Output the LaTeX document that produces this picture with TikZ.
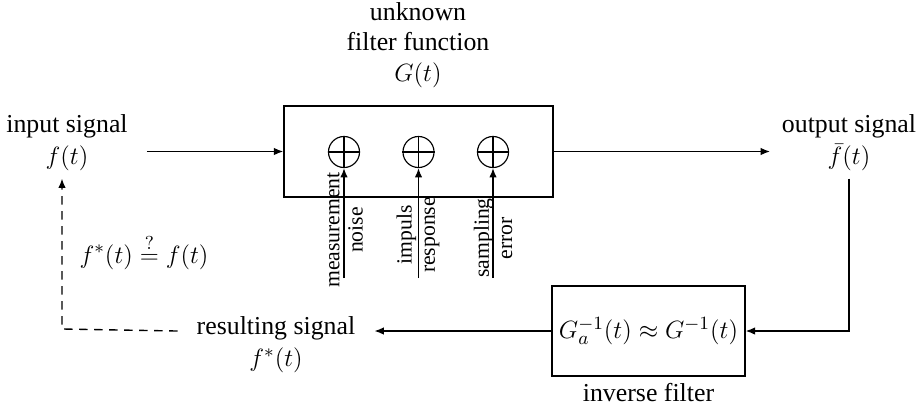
\documentclass[tikz,border=0pt]{standalone}
\usepackage[no-math]{fontspec}
\setmainfont{Liberation Serif}
\usetikzlibrary{arrows.meta,calc}
\begin{document}
\begin{tikzpicture}[x=0.48pt,y=-0.48pt,
  lbl/.style={align=center,font=\fontsize{12.4pt}{14.5pt}\selectfont},
  lblw/.style={align=center,font=\fontsize{12.4pt}{15.5pt}\selectfont},
  small/.style={align=center,rotate=90,inner sep=0pt,font=\fontsize{10.4pt}{11.2pt}\selectfont},
  blk/.style={draw,line width=0.7pt,inner sep=0pt},
  sum/.style={draw,circle,minimum size=14.9pt,inner sep=0pt,line width=0.55pt},
  arr/.style={line width=0.65pt,-{Latex[length=4.5pt,width=3.6pt]}}]
\useasboundingbox (0,0) rectangle (917,407);
% main box
\node[blk,minimum width=129.1pt,minimum height=43.7pt] (box) at (418.5,151.5) {};
\node[lbl] (title) at (418,45) {unknown\\filter function\\$G(t)$};
% adders
\node[sum] (c1) at (344,152) {};
\node[sum] (c2) at (418.5,152) {};
\node[sum] (c3) at (493,152) {};
\foreach \c in {c1,c2,c3}{
  \draw[line width=0.55pt] (\c.north) -- (\c.south) (\c.west) -- (\c.east);
}
\coordinate (s1) at (344,278);
\coordinate (s2) at (418.5,278);
\coordinate (s3) at (493,278);
\draw[arr] (s1) -- (c1.south);
\draw[arr] (s2) -- (c2.south);
\draw[arr] (s3) -- (c3.south);
\node[small] (l1) at (345,230) {measurement\\noise};
\node[small] (l2) at (418,235) {impuls\\response};
\node[small] (l3) at (493,238) {sampling\\error};
% input / output
\node[lblw,inner xsep=9pt] (in) at (67,143) {input signal\\$f(t)$};
\node[lblw,inner xsep=5.5pt] (out) at (849,143) {output signal\\$\bar{f}(t)$};
\draw[arr] (in.east |- box.west) -- (box.west);
\draw[arr] (box.east) -- (out.west |- box.east);
% inverse filter
\node[blk,lbl,minimum width=92.6pt,minimum height=43.2pt] (inv) at (648.5,331) {$G_a^{-1}(t)\approx G^{-1}(t)$};
\node[lbl] (invl) at (648.5,393) {inverse filter};
\draw[arr] (out.south) |- (inv.east);
% resulting
\node[lblw,inner xsep=9pt] (res) at (276,345) {resulting signal\\$f^*(t)$};
\draw[arr] (inv.west) -- (res.east |- inv.west);
\coordinate (corner) at (62,329);
\draw[arr,dash pattern=on 4pt off 3.2pt] (res.west |- inv.west) -- (corner) -- (corner |- in.south);
\node[font=\fontsize{13.2pt}{15pt}\selectfont] (eq) at (144,252) {$f^*(t)\stackrel{?}{=}f(t)$};
\end{tikzpicture}
\end{document}
